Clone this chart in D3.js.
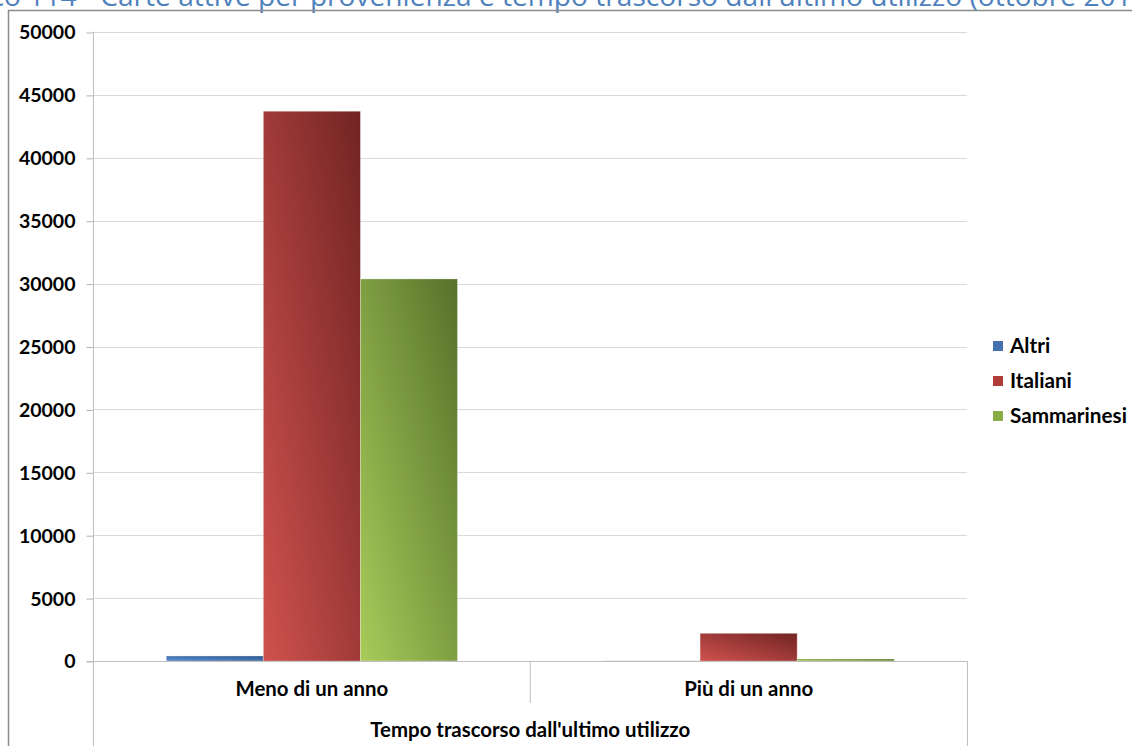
<!DOCTYPE html>
<html><head><meta charset="utf-8">
<script src="https://cdn.jsdelivr.net/npm/d3@7"></script>
<style>
html,body{margin:0;padding:0;background:#fff;overflow:hidden;}
svg{display:block;}
text{font-family:Lato,"Open Sans",sans-serif;}
</style></head>
<body>
<svg id="c" width="1132" height="746"></svg>
<script>
const titleText = "Grafico 114 - Carte attive per provenienza e tempo trascorso dall'ultimo utilizzo (ottobre 2018)";
const categories = ["Meno di un anno", "Più di un anno"];
const seriesNames = ["Altri", "Italiani", "Sammarinesi"];
const altri = [400, 10];
const italiani = [43700, 2200];
const sammarinesi = [30370, 160];
const yTicks = [0, 5000, 10000, 15000, 20000, 25000, 30000, 35000, 40000, 45000, 50000];
const axisTitle = "Tempo trascorso dall'ultimo utilizzo";

(function () {
const seriesValues = [altri, italiani, sammarinesi];
const colors = {
  "Altri": ["#5b8ccb", "#2f5b91"],
  "Italiani": ["#cf524e", "#712423"],
  "Sammarinesi": ["#a8cb5a", "#57712a"]
};
const legendColors = {"Altri": "#4472b0", "Italiani": "#b13d3a", "Sammarinesi": "#8aac45"};

const svg = d3.select("#c");
const defs = svg.append("defs");
seriesNames.forEach((s, i) => {
  const g = defs.append("linearGradient").attr("id", "g" + i)
    .attr("x1", 0).attr("y1", 1).attr("x2", 1).attr("y2", 0);
  g.append("stop").attr("offset", "0%").attr("stop-color", colors[s][0]);
  g.append("stop").attr("offset", "100%").attr("stop-color", colors[s][1]);
});

// Title (partially cut off at top, as in the source)
const t = svg.append("text").attr("y", 6).attr("fill", "#4f81bd")
  .style("font-family", "'Open Sans',sans-serif").style("font-size", "26px").text(titleText);
const tmp = svg.append("text").style("font-family", "'Open Sans',sans-serif").style("font-size", "26px");
const prefixW = tmp.text("Grafico 114 - ").node().getComputedTextLength();
const spanW = tmp.text("Carte attive per provenienza e tempo trascorso dall'ultimo utilizzo (ottobre 201").node().getComputedTextLength();
tmp.remove();
const fs = 26 * 1032 / spanW;
t.style("font-size", fs + "px").attr("x", 93 - prefixW * fs / 26);

// outer frame
svg.append("path").attr("d", "M8.5,746 L8.5,10.5 L1132,10.5").attr("fill", "none")
  .attr("stroke", "#8c8c8c").attr("stroke-width", 1.5);

const pl = 93.5, pr = 967, pt = 32, pb = 661;
const y = d3.scaleLinear().domain([0, 50000]).range([pb, pt]);
const x0 = d3.scaleBand().domain(categories).range([pl, pr]).padding(0);
const x1 = d3.scaleBand().domain(seriesNames).range([0, x0.bandwidth()]).paddingInner(0).paddingOuter(0.75);

// gridlines
svg.append("g").selectAll("line").data(yTicks.filter(d => d > 0)).join("line")
  .attr("x1", pl).attr("x2", pr)
  .attr("y1", d => Math.round(y(d)) + 0.5).attr("y2", d => Math.round(y(d)) + 0.5)
  .attr("stroke", "#d9d9d9").attr("stroke-width", 1);

// y axis
const yAxis = d3.axisLeft(y).tickValues(yTicks).tickSize(7).tickPadding(11).tickFormat(d3.format("d"));
const ya = svg.append("g").attr("transform", `translate(${pl},0.5)`).call(yAxis);
ya.select(".domain").remove();
ya.selectAll(".tick line").attr("stroke", "#b3b3b3");
ya.selectAll(".tick text").attr("fill", "#000").style("font-size", "19.5px").style("font-weight", "700")
  .style("font-family", "Lato,sans-serif").attr("dy", "0.33em");
svg.append("line").attr("x1", pl).attr("x2", pl).attr("y1", pt - 0.5).attr("y2", 746)
  .attr("stroke", "#bfbfbf");

// bars
const groups = svg.append("g").selectAll("g").data(categories).join("g")
  .attr("transform", d => `translate(${x0(d)},0)`);
groups.selectAll("rect").data((c, ci) => seriesNames.map((s, si) => ({s, si, v: seriesValues[si][ci]})))
  .join("rect")
  .attr("x", d => x1(d.s)).attr("width", x1.bandwidth())
  .attr("y", d => y(d.v)).attr("height", d => pb - y(d.v))
  .attr("fill", d => `url(#g${d.si})`)
  .attr("stroke", "rgba(255,255,255,0.35)").attr("stroke-width", 0.8);

// baseline & category axis
svg.append("line").attr("x1", pl - 7).attr("x2", pr).attr("y1", pb + 0.5).attr("y2", pb + 0.5)
  .attr("stroke", "#bfbfbf");
svg.append("line").attr("x1", x0(categories[1])).attr("x2", x0(categories[1]))
  .attr("y1", pb).attr("y2", 703).attr("stroke", "#bfbfbf");
svg.append("line").attr("x1", pr + 0.5).attr("x2", pr + 0.5)
  .attr("y1", pb).attr("y2", 746).attr("stroke", "#bfbfbf");

svg.append("g").selectAll("text").data(categories).join("text")
  .attr("x", d => x0(d) + x0.bandwidth() / 2).attr("y", 696)
  .attr("text-anchor", "middle").style("font-size", "20.4px").style("font-weight", "700").text(d => d);

svg.append("text").attr("x", (pl + pr) / 2).attr("y", 737).attr("text-anchor", "middle")
  .style("font-size", "20.4px").style("font-weight", "700").text(axisTitle);

// legend
const lg = svg.append("g").selectAll("g").data(seriesNames).join("g")
  .attr("transform", (d, i) => `translate(993,${341 + i * 35})`);
lg.append("rect").attr("width", 10).attr("height", 10).attr("fill", d => legendColors[d]);
lg.append("text").attr("x", 17).attr("y", 5).attr("dy", "0.35em")
  .style("font-size", "20.7px").style("font-weight", "700").text(d => d);
})();
</script>
</body></html>
